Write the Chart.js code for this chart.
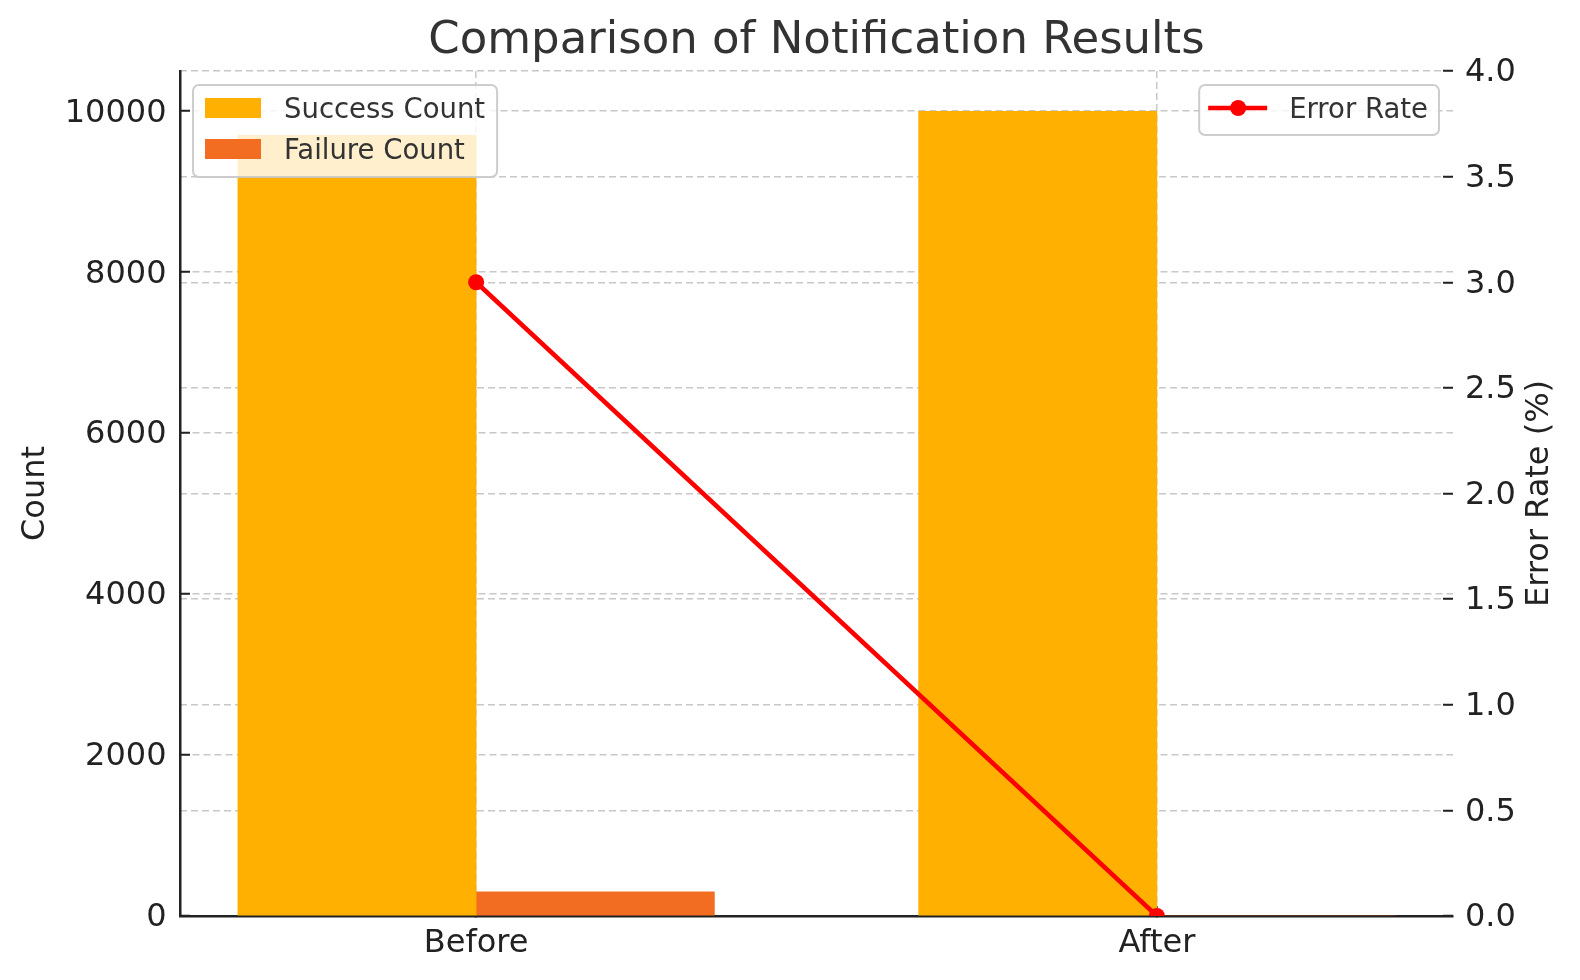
<!DOCTYPE html>
<html>
<head>
<meta charset="utf-8">
<title>Comparison of Notification Results</title>
<script src="https://cdn.jsdelivr.net/npm/chart.js@4.4.1/dist/chart.umd.min.js"></script>
<style>
  html, body { margin: 0; padding: 0; background: #fff; }
</style>
</head>
<body>
<canvas id="chart" width="1580" height="980"></canvas>
<script>
// Data
const categories = ["Before", "After"];
const successCount = [9700, 10000];
const failureCount = [300, 0];
const errorRate = [3.0, 0.0];
const countTicks = [0, 2000, 4000, 6000, 8000, 10000];
const rateTicks = [0, 0.5, 1.0, 1.5, 2.0, 2.5, 3.0, 3.5, 4.0];

const FONT = "'DejaVu Sans', sans-serif";
const SUCCESS = "#FFB000";
const FAILURE = "#F26C22";
const RED = "#FF0000";
const GRID = "#c8c8c8";
const INK = "#222";
const BAR_HALF = 0.175; // bars are 0.35 wide, one each side of the category

Chart.defaults.font.family = FONT;

// rounded legend frame
function frame(c, x, y, w, h, r) {
    c.beginPath();
    c.moveTo(x + r, y);
    c.arcTo(x + w, y, x + w, y + h, r);
    c.arcTo(x + w, y + h, x, y + h, r);
    c.arcTo(x, y + h, x, y, r);
    c.arcTo(x, y, x + w, y, r);
    c.closePath();
    c.fillStyle = "rgba(255,255,255,0.8)";
    c.fill();
    c.lineWidth = 2;
    c.strokeStyle = "rgba(200,200,200,0.9)";
    c.stroke();
}

// Two legends like matplotlib: bars top-left, line top-right
const legendBoxes = {
    id: "legendBoxes",
    afterDraw(chart) {
        const c = chart.ctx;
        const ca = chart.chartArea;
        const sets = chart.data.datasets;
        c.save();
        c.font = "27.5px " + FONT;
        c.textBaseline = "middle";
        c.textAlign = "left";

        const bars = sets.filter(d => d.type === "bar");
        const lx = ca.left + 13, ly = ca.top + 14;
        const lw = 91 + Math.max(...bars.map(d => c.measureText(d.label).width)) + 12;
        frame(c, lx, ly, lw, 92, 6);
        bars.forEach((d, i) => {
            const cy = ly + 23 + i * 41;
            c.fillStyle = d.backgroundColor;
            c.fillRect(lx + 12, cy - 10, 56, 20);
            c.fillStyle = "#333";
            c.fillText(d.label, lx + 91, cy + 3);
        });

        const line = sets.find(d => d.type === "line");
        const rw = 90 + c.measureText(line.label).width + 11;
        const rx = ca.right - 14 - rw, ry = ca.top + 14;
        frame(c, rx, ry, rw, 50, 6);
        const cy = ry + 23;
        c.strokeStyle = line.borderColor;
        c.lineWidth = line.borderWidth;
        c.beginPath();
        c.moveTo(rx + 9, cy);
        c.lineTo(rx + 68, cy);
        c.stroke();
        c.fillStyle = line.borderColor;
        c.beginPath();
        c.arc(rx + 39, cy, line.pointRadius, 0, Math.PI * 2);
        c.fill();
        c.fillStyle = "#333";
        c.fillText(line.label, rx + 90, cy + 3);
        c.restore();
    }
};

// right axis title reads bottom-to-top, like the left one
const rightTitle = {
    id: "rightTitle",
    afterDraw(chart) {
        const c = chart.ctx;
        const ca = chart.chartArea;
        const s = chart.scales.y1;
        c.save();
        c.translate(s.right - 40, (ca.top + ca.bottom) / 2);
        c.rotate(-Math.PI / 2);
        c.font = "32px " + FONT;
        c.fillStyle = INK;
        c.textAlign = "center";
        c.textBaseline = "middle";
        c.fillText("Error Rate (%)", 0, 0);
        c.restore();
    }
};

const tickFont = { size: 32, family: FONT };
const gridOpts = { color: GRID, lineWidth: 1.5, tickLength: -10, tickColor: INK, tickWidth: 2, offset: false };

new Chart(document.getElementById("chart").getContext("2d"), {
    type: "bar",
    data: {
        datasets: [
            {
                type: "line",
                label: "Error Rate",
                yAxisID: "y1",
                data: errorRate.map((v, i) => ({ x: i, y: v })),
                borderColor: RED,
                backgroundColor: RED,
                borderWidth: 4.5,
                pointRadius: 8,
                pointHoverRadius: 8,
                pointBackgroundColor: RED,
                pointBorderWidth: 0,
                tension: 0,
                clip: 0,
                order: 0
            },
            {
                type: "bar",
                label: "Success Count",
                yAxisID: "y",
                data: successCount.map((v, i) => ({ x: i - BAR_HALF, y: v })),
                backgroundColor: SUCCESS,
                grouped: false,
                barPercentage: 1,
                categoryPercentage: 1,
                order: 1
            },
            {
                type: "bar",
                label: "Failure Count",
                yAxisID: "y",
                data: failureCount.map((v, i) => ({ x: i + BAR_HALF, y: v })),
                backgroundColor: FAILURE,
                grouped: false,
                barPercentage: 1,
                categoryPercentage: 1,
                order: 1
            }
        ]
    },
    options: {
        responsive: false,
        animation: false,
        events: [],
        layout: { padding: 0 },
        plugins: {
            legend: { display: false },
            tooltip: { enabled: false },
            title: {
                display: true,
                text: "Comparison of Notification Results",
                fullSize: false,
                color: "#333",
                font: { size: 45, weight: "normal", family: FONT },
                padding: { top: 14, bottom: 3 }
            }
        },
        scales: {
            x: {
                type: "linear",
                offset: false,
                min: -0.435,
                max: 1.435,
                afterBuildTicks: s => { s.ticks = categories.map((_, i) => ({ value: i })); },
                afterFit: s => { s.height = 64; },
                grid: gridOpts,
                border: { color: INK, width: 2.5, dash: [7, 4] },
                ticks: {
                    padding: 18,
                    color: INK,
                    font: tickFont,
                    maxRotation: 0,
                    autoSkip: false,
                    callback: v => categories[Math.round(v)] ?? ""
                }
            },
            y: {
                position: "left",
                min: 0,
                max: 10500,
                afterBuildTicks: s => { s.ticks = countTicks.map(v => ({ value: v })); },
                afterFit: s => { s.width = 180; },
                grid: gridOpts,
                border: { color: INK, width: 2.5, dash: [7, 4] },
                ticks: { padding: 23.5, labelOffset: 2, color: INK, font: tickFont, callback: v => String(v) },
                title: {
                    display: true,
                    text: "Count",
                    color: INK,
                    font: tickFont,
                    padding: { top: 16, bottom: 0 }
                }
            },
            y1: {
                position: "right",
                min: 0,
                max: 4,
                afterBuildTicks: s => { s.ticks = rateTicks.map(v => ({ value: v })); },
                afterFit: s => { s.width = 127; },
                grid: gridOpts,
                border: { display: false, dash: [7, 4] },
                ticks: { padding: 22, labelOffset: 2, color: INK, font: tickFont, callback: v => v.toFixed(1) }
            }
        }
    },
    plugins: [legendBoxes, rightTitle]
});
</script>
</body>
</html>
